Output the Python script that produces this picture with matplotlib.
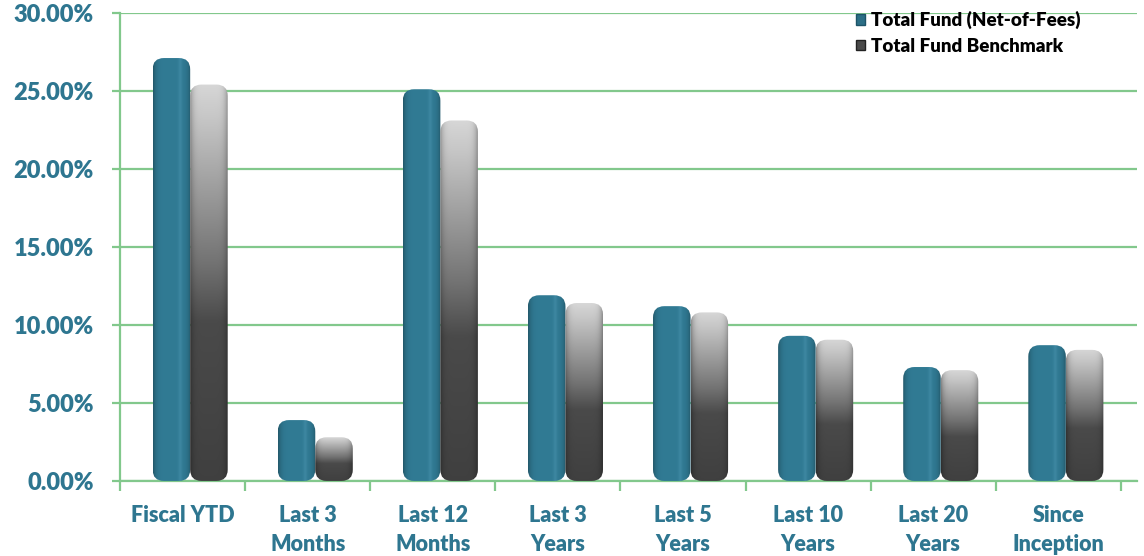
import numpy as np
import matplotlib.pyplot as plt
from matplotlib.patches import FancyBboxPatch, Patch
from matplotlib.ticker import FuncFormatter, MultipleLocator

plt.rcParams['font.family'] = ['Lato', 'DejaVu Sans']

categories = ["Fiscal YTD", "Last 3\nMonths", "Last 12\nMonths", "Last 3\nYears",
              "Last 5\nYears", "Last 10\nYears", "Last 20\nYears", "Since\nInception"]
fund_net = [27.1, 3.9, 25.1, 11.9, 11.2, 9.3, 7.3, 8.7]
benchmark = [25.4, 2.8, 23.1, 11.4, 10.8, 9.05, 7.1, 8.4]
series_names = ["Total Fund (Net-of-Fees)", "Total Fund Benchmark"]

LABEL = "#2e7690"
GRID = "#82c88c"
W = 0.3
SHIFT = 0.06

fig = plt.figure(figsize=(11.44, 5.56), dpi=100)
ax = fig.add_axes([0.105, 0.135, 0.889, 0.842])
ax.set_xlim(-0.5, 7.63)
ax.set_ylim(0, 30)

# horizontal shading: dark edges, faint highlight right of centre
u = np.linspace(0, 1, 64)
edge = np.clip(1 - ((u - 0.5) / 0.5) ** 6, 0, 1)


def teal_img():
    base = np.array([0.19, 0.48, 0.58])
    hi = np.array([0.05, 0.05, 0.05])
    row = base[None, :] * (0.72 + 0.28 * edge[:, None]) + hi[None, :] * np.exp(-((u - 0.72) / 0.05) ** 2)[:, None]
    return np.clip(np.tile(row[None, :, :], (64, 1, 1)), 0, 1)


def gray_img():
    v = np.linspace(0, 1, 128)[:, None]  # 0 = top
    level = np.interp(v, [0, 0.08, 0.45, 0.6, 1.0], [0.84, 0.78, 0.45, 0.29, 0.25])
    shade = level * (0.7 + 0.3 * edge[None, :])
    return np.clip(np.repeat(shade[:, :, None], 3, axis=2), 0, 1)


def draw_bar(x0, h, img):
    px_x = ax.transData.transform([(1, 0)])[0][0] - ax.transData.transform([(0, 0)])[0][0]
    px_y = ax.transData.transform([(0, 1)])[0][1] - ax.transData.transform([(0, 0)])[0][1]
    patch = FancyBboxPatch((x0, 0), W, h,
                           boxstyle="round,pad=0,rounding_size=0.09",
                           mutation_aspect=px_x / px_y,
                           facecolor="none", edgecolor="none", zorder=3)
    ax.add_patch(patch)
    im = ax.imshow(img, extent=(x0, x0 + W, 0, h), aspect="auto",
                   interpolation="bilinear", zorder=3)
    im.set_clip_path(patch)


x = np.arange(len(categories))
for i in x:
    draw_bar(i + SHIFT - W, fund_net[i], teal_img())
    draw_bar(i + SHIFT, benchmark[i], gray_img())

ax.set_aspect("auto")
ax.set_xlim(-0.5, 7.63)
ax.set_ylim(0, 30)

ax.yaxis.set_major_locator(MultipleLocator(5))
ax.yaxis.set_major_formatter(FuncFormatter(lambda v, _: f"{v:.2f}%"))
ax.grid(axis="y", color=GRID, linewidth=1.6, zorder=0)
ax.set_axisbelow(True)

ax.set_xticks(x)
ax.set_xticklabels(categories)
ax.set_xticks(np.arange(-0.5, 8, 1), minor=True)
ax.tick_params(axis="x", which="major", length=0, pad=17,
               labelsize=15.5, labelcolor=LABEL)
ax.tick_params(axis="x", which="minor", length=7, width=1.6, color=GRID)
ax.tick_params(axis="y", length=6, width=1.6, color=GRID, pad=13,
               labelsize=17, labelcolor=LABEL)
for lab in ax.get_xticklabels() + ax.get_yticklabels():
    lab.set_fontweight("heavy")
for lab in ax.get_xticklabels():
    lab.set_linespacing(1.5)

for side in ("top", "right"):
    ax.spines[side].set_visible(False)
for side in ("left", "bottom"):
    ax.spines[side].set_color(GRID)
    ax.spines[side].set_linewidth(1.6)

handles = [Patch(facecolor="#2c6f86", edgecolor="#1d5468"),
           Patch(facecolor="#4a4a4a", edgecolor="#222222")]
leg = ax.legend(handles, series_names, loc="upper left",
                bbox_to_anchor=(0.707, 1.04), frameon=False,
                handlelength=0.5, handleheight=0.5, handletextpad=0.3,
                labelspacing=0.45, prop={"weight": "heavy", "size": 13.5})

fig.savefig("out.png", dpi=100)
